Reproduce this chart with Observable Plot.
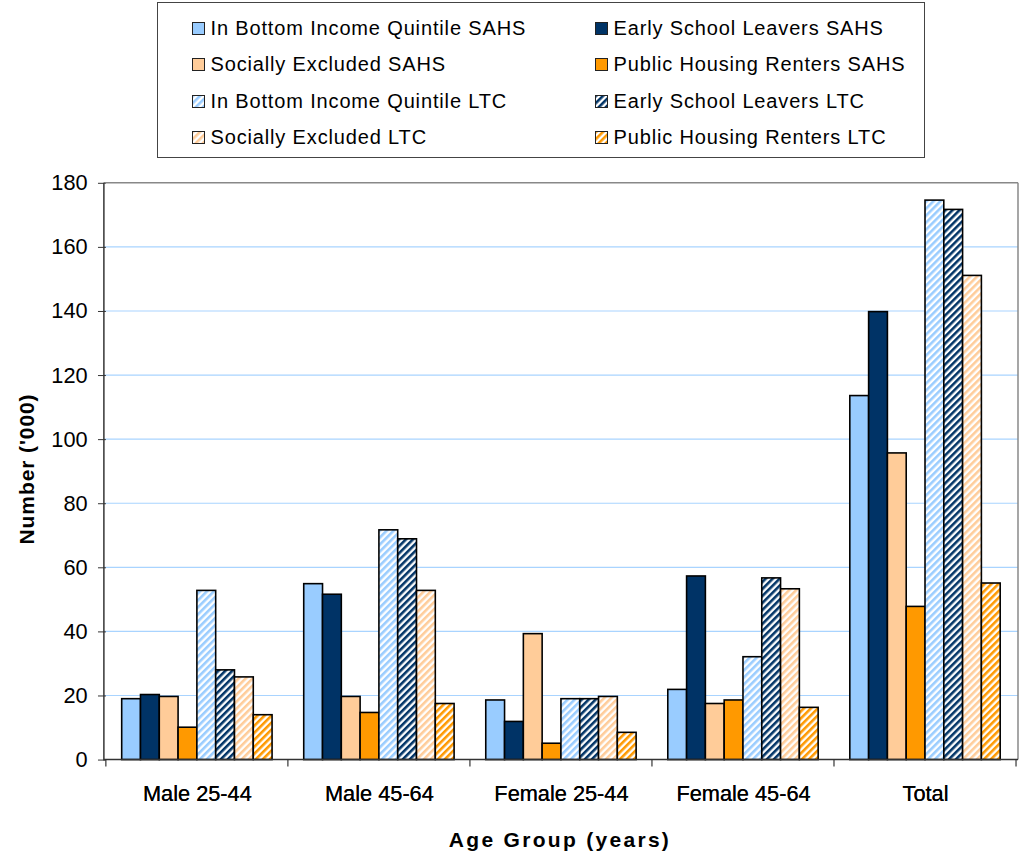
<!DOCTYPE html>
<html><head><meta charset="utf-8">
<script src="https://cdn.jsdelivr.net/npm/d3@7"></script>
<script src="https://cdn.jsdelivr.net/npm/@observablehq/plot@0.6"></script>
<style>
html,body{margin:0;padding:0;background:#fff;}
body{font-family:"Liberation Sans",Arial,sans-serif;overflow:hidden;width:1019px;height:854px;position:relative;}
#legend{position:absolute;left:157px;top:2px;width:768px;height:156px;border:1.5px solid #444;box-sizing:border-box;}
.item{position:absolute;font-size:20px;letter-spacing:0.85px;color:#000;display:flex;align-items:center;height:24px;white-space:nowrap;}
.item svg{margin-right:6px;flex:none;}
#chart{position:absolute;left:0;top:165px;}
.ytitle{position:absolute;left:27px;top:469px;transform:translate(-50%,-50%) rotate(-90deg);font-weight:bold;font-size:21px;letter-spacing:0.9px;white-space:nowrap;}
.xtitle{position:absolute;left:560px;top:840px;transform:translate(-50%,-50%);font-weight:bold;font-size:21px;letter-spacing:2.3px;white-space:nowrap;}
</style></head>
<body>
<svg width="0" height="0" style="position:absolute"><defs id="pdefs"></defs></svg>
<div id="legend"></div>
<div id="chart"></div>
<div class="ytitle">Number ('000)</div>
<div class="xtitle">Age Group (years)</div>
<script>
const groups = ["Male 25-44", "Male 45-64", "Female 25-44", "Female 45-64", "Total"];
const seriesNames = [
  "In Bottom Income Quintile SAHS", "Early School Leavers SAHS",
  "Socially Excluded SAHS", "Public Housing Renters SAHS",
  "In Bottom Income Quintile LTC", "Early School Leavers LTC",
  "Socially Excluded LTC", "Public Housing Renters LTC"
];
const seriesColors = ["#99CCFF", "#003366", "#FFCC99", "#FF9900", "#99CCFF", "#003366", "#FFCC99", "#FF9900"];
const seriesHatched = [false, false, false, false, true, true, true, true];

const bottomIncomeSAHS     = [19.0, 54.9, 18.6, 21.9, 113.6];
const earlyLeaversSAHS     = [20.3, 51.6, 11.9, 57.3, 139.8];
const sociallyExclSAHS     = [19.7, 19.7, 39.3, 17.5, 95.7];
const publicHousingSAHS    = [10.1, 14.7, 5.1, 18.6, 47.8];
const bottomIncomeLTC      = [52.8, 71.7, 19.0, 32.1, 174.6];
const earlyLeaversLTC      = [28.0, 68.9, 19.0, 56.7, 171.7];
const sociallyExclLTC      = [25.8, 52.8, 19.7, 53.3, 151.1];
const publicHousingLTC     = [14.0, 17.5, 8.5, 16.3, 55.1];
const yTicks = [0, 20, 40, 60, 80, 100, 120, 140, 160, 180];

const seriesValues = [bottomIncomeSAHS, earlyLeaversSAHS, sociallyExclSAHS, publicHousingSAHS,
                      bottomIncomeLTC, earlyLeaversLTC, sociallyExclLTC, publicHousingLTC];

// patterns
const defs = d3.select("#pdefs");
seriesColors.forEach((c, i) => {
  if (!seriesHatched[i]) return;
  const p = defs.append("pattern").attr("id", "hatch" + i)
    .attr("patternUnits", "userSpaceOnUse").attr("width", 5).attr("height", 5)
    .attr("patternTransform", "rotate(45)");
  p.append("rect").attr("width", 5).attr("height", 5).attr("fill", "#fff");
  p.append("rect").attr("width", 2.6).attr("height", 5).attr("fill", c);
});
const fillFor = i => seriesHatched[i] ? `url(#hatch${i})` : seriesColors[i];

const data = [];
groups.forEach((g, gi) => seriesNames.forEach((s, si) => {
  data.push({group: g, series: s, value: seriesValues[si][gi], fill: fillFor(si)});
}));

// legend
const legend = document.getElementById("legend");
const colLeft = [33.5, 436.5];
const rowMid = [25.5, 61.5, 98, 134];
seriesNames.forEach((s, i) => {
  const col = i % 2, row = Math.floor(i / 2);
  const div = document.createElement("div");
  div.className = "item";
  div.style.left = colLeft[col] + "px";
  div.style.top = (rowMid[row] - 12) + "px";
  div.innerHTML = `<svg width="13" height="13"><rect x="0.5" y="0.5" width="12" height="12" fill="${fillFor(i)}" stroke="#222" stroke-width="1"/></svg><span>${s}</span>`;
  legend.appendChild(div);
});

// layout
const W = 1030, ML = 105, MR = 1;
const fxPadInner = 0.151, fxPadOuter = 0.0755;
const fxStep = (W - ML - MR) / (groups.length - fxPadInner + 2 * fxPadOuter);
const yAxisShift = -fxPadOuter * fxStep; // facet frame starts after outer padding

const hasAxisMarks = typeof Plot.axisY === "function" && typeof Plot.axisFx === "function";
const axisMarks = hasAxisMarks ? [
  Plot.axisY({ticks: yTicks, tickSize: 8, tickPadding: 11, fontSize: 22, label: null, stroke: "#333", dx: yAxisShift}),
  Plot.axisFx({anchor: "bottom", tickSize: 0, tickPadding: 26, fontSize: 22, label: null})
] : [];

const plot = Plot.plot({
  width: W, height: 695,
  marginLeft: ML, marginRight: MR, marginTop: 18, marginBottom: 94,
  style: {fontFamily: "'Liberation Sans', Arial, sans-serif", fontSize: "22px", color: "#000", background: "transparent", overflow: "visible"},
  fx: {domain: groups, paddingInner: fxPadInner, paddingOuter: fxPadOuter, label: null, axis: "bottom", tickSize: 0, tickPadding: 26},
  x: {domain: seriesNames, padding: 0, axis: null},
  y: {domain: [0, 180], ticks: yTicks, label: null, tickSize: 8, tickPadding: 11},
  color: {type: "identity"},
  marks: [
    ...axisMarks,
    Plot.barY(data, {fx: "group", x: "series", y: "value", fill: "fill", stroke: "#000", strokeWidth: 1.6})
  ]
});
document.getElementById("chart").appendChild(plot);

// full-width grid, frame and group boundary ticks using the plot's scales
const ys = plot.scale("y"), fxs = plot.scale("fx");
const svg = d3.select(plot);
const x0 = ML, x1 = W - MR;
const under = svg.insert("g", ":first-child");
yTicks.filter(t => t > 0 && t < 180).forEach(t => {
  under.append("line").attr("x1", x0).attr("x2", x1).attr("y1", ys.apply(t)).attr("y2", ys.apply(t))
    .attr("stroke", "#A9D4FF").attr("stroke-width", 1.2);
});
const over = svg.append("g");
over.append("line").attr("x1", x0).attr("x2", x1).attr("y1", ys.apply(180)).attr("y2", ys.apply(180)).attr("stroke", "#888").attr("stroke-width", 1.5);
over.append("line").attr("x1", x0).attr("x2", x0).attr("y1", ys.apply(180)).attr("y2", ys.apply(0) + 1).attr("stroke", "#333").attr("stroke-width", 1.5);
over.append("line").attr("x1", x1).attr("x2", x1).attr("y1", ys.apply(180)).attr("y2", ys.apply(0)).attr("stroke", "#888").attr("stroke-width", 1.5);
over.append("line").attr("x1", x0).attr("x2", x1).attr("y1", ys.apply(0)).attr("y2", ys.apply(0)).attr("stroke", "#333").attr("stroke-width", 1.5);
const gap = fxs.step - fxs.bandwidth;
const bounds = groups.map(g => fxs.apply(g) - gap / 2).concat([fxs.apply(groups[groups.length - 1]) + fxs.bandwidth + gap / 2]);
bounds.forEach(b => {
  over.append("line").attr("x1", b).attr("x2", b).attr("y1", ys.apply(0)).attr("y2", ys.apply(0) + 7).attr("stroke", "#333").attr("stroke-width", 1.2);
});
</script>
</body></html>
